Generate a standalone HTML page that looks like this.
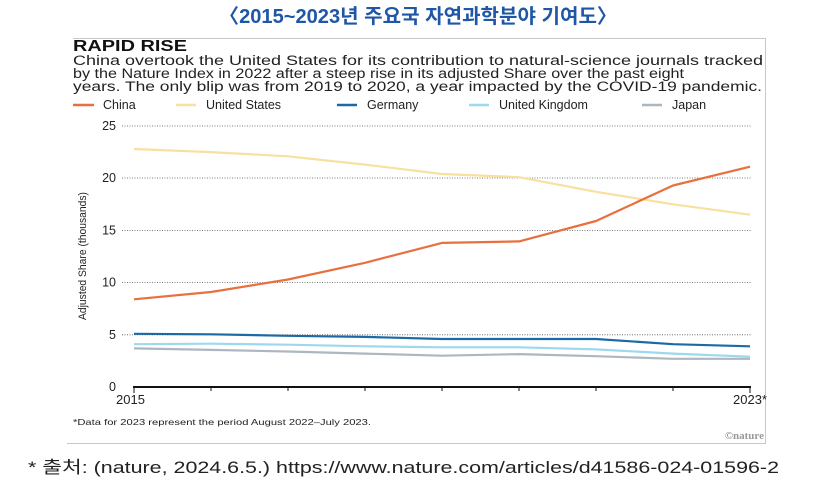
<!DOCTYPE html>
<html><head><meta charset="utf-8"><style>
html,body{margin:0;padding:0;background:#fff;width:837px;height:481px;overflow:hidden}
svg{display:block}
</style></head><body>
<svg width="837" height="481" viewBox="0 0 837 481" xmlns="http://www.w3.org/2000/svg" font-family="Liberation Sans, sans-serif">
<text x="418" y="23" text-anchor="middle" font-family="Liberation Sans Narrow, Liberation Sans, Noto Sans CJK KR, sans-serif" font-size="20" font-weight="bold" fill="#1f57a6" textLength="398" lengthAdjust="spacingAndGlyphs">〈2015~2023년 주요국 자연과학분야 기여도〉</text>
<path d="M73 38.5H765.5V443.5H67" fill="none" stroke="#c8c8c8" stroke-width="1"/>
<text x="73" y="51" font-size="16" font-weight="900" fill="#111" textLength="114" lengthAdjust="spacingAndGlyphs">RAPID RISE</text>
<g font-size="13.5" fill="#222">
<text x="73" y="65" textLength="690" lengthAdjust="spacingAndGlyphs">China overtook the United States for its contribution to natural-science journals tracked</text>
<text x="73" y="78" textLength="611" lengthAdjust="spacingAndGlyphs">by the Nature Index in 2022 after a steep rise in its adjusted Share over the past eight</text>
<text x="73" y="91" textLength="689" lengthAdjust="spacingAndGlyphs">years. The only blip was from 2019 to 2020, a year impacted by the COVID-19 pandemic.</text>
</g>
<g font-size="12.5" fill="#222">
<line x1="73" y1="105" x2="94" y2="105" stroke="#e8703f" stroke-width="2.5"/><text x="103" y="109">China</text>
<line x1="176" y1="105" x2="196" y2="105" stroke="#f8e0a0" stroke-width="2.5"/><text x="206" y="109">United States</text>
<line x1="337" y1="105" x2="357" y2="105" stroke="#1b6aa5" stroke-width="2.5"/><text x="367" y="109">Germany</text>
<line x1="469" y1="105" x2="489" y2="105" stroke="#9ed8ee" stroke-width="2.5"/><text x="499" y="109">United Kingdom</text>
<line x1="642" y1="105" x2="662" y2="105" stroke="#aeb6c0" stroke-width="2.5"/><text x="672" y="109">Japan</text>
</g>
<g stroke="#555" stroke-width="0.8" stroke-dasharray="1 1.5">
<line x1="122" y1="126" x2="752" y2="126"/><line x1="122" y1="178" x2="752" y2="178"/><line x1="122" y1="230.5" x2="752" y2="230.5"/><line x1="122" y1="282.6" x2="752" y2="282.6"/><line x1="122" y1="334.8" x2="752" y2="334.8"/>
</g>
<g font-size="12.5" fill="#222" text-anchor="end">
<text x="116" y="130">25</text><text x="116" y="182">20</text><text x="116" y="234.5">15</text><text x="116" y="286.6">10</text><text x="116" y="338.8">5</text><text x="116" y="391">0</text>
</g>
<text transform="translate(86,256) rotate(-90)" text-anchor="middle" font-size="11" fill="#222" textLength="128" lengthAdjust="spacingAndGlyphs">Adjusted Share (thousands)</text>
<line x1="133" y1="387" x2="751" y2="387" stroke="#111" stroke-width="2"/>
<g stroke="#111" stroke-width="1"><line x1="134" y1="387" x2="134" y2="393"/><line x1="211" y1="387" x2="211" y2="391"/><line x1="288" y1="387" x2="288" y2="391"/><line x1="365" y1="387" x2="365" y2="391"/><line x1="442" y1="387" x2="442" y2="391"/><line x1="519" y1="387" x2="519" y2="391"/><line x1="596" y1="387" x2="596" y2="391"/><line x1="673" y1="387" x2="673" y2="391"/><line x1="750" y1="387" x2="750" y2="393"/></g>
<text x="116" y="404" font-size="13" fill="#222">2015</text>
<text x="767" y="404" font-size="13" fill="#222" text-anchor="end">2023*</text>
<g fill="none" stroke-width="2.2" stroke-linejoin="round">
<polyline stroke="#aeb6c0" points="134,348.4 211,349.9 288,351.5 365,353.6 442,355.7 519,354.1 596,356.2 673,358.8 750,358.8"/>
<polyline stroke="#9ed8ee" points="134,344.2 211,343.7 288,344.7 365,346.3 442,347.3 519,347.3 596,349.4 673,353.6 750,356.7"/>
<polyline stroke="#1b6aa5" points="134,333.8 211,334.3 288,335.8 365,336.9 442,339 519,339 596,339 673,344.2 750,346.3"/>
<polyline stroke="#f8e0a0" points="134,149 211,152.1 288,156.3 365,164.6 442,174 519,177.2 596,191.8 673,204.3 750,214.7"/>
<polyline stroke="#e8703f" points="134,299.3 211,292 288,279.5 365,262.8 442,242.9 519,241.4 596,221 673,185.5 750,166.7"/>
</g>
<text x="73" y="425" font-size="8.5" fill="#222" textLength="298" lengthAdjust="spacingAndGlyphs">*Data for 2023 represent the period August 2022–July 2023.</text>
<text x="764" y="439" font-size="11" font-weight="bold" fill="#999" text-anchor="end" font-family="Liberation Serif, serif">©nature</text>
<text x="28" y="473" font-size="17" fill="#222" font-family="Liberation Sans, Noto Sans CJK KR, sans-serif" textLength="751" lengthAdjust="spacingAndGlyphs">* 출처: (nature, 2024.6.5.) https://www.nature.com/articles/d41586-024-01596-2</text>
</svg>
</body></html>
